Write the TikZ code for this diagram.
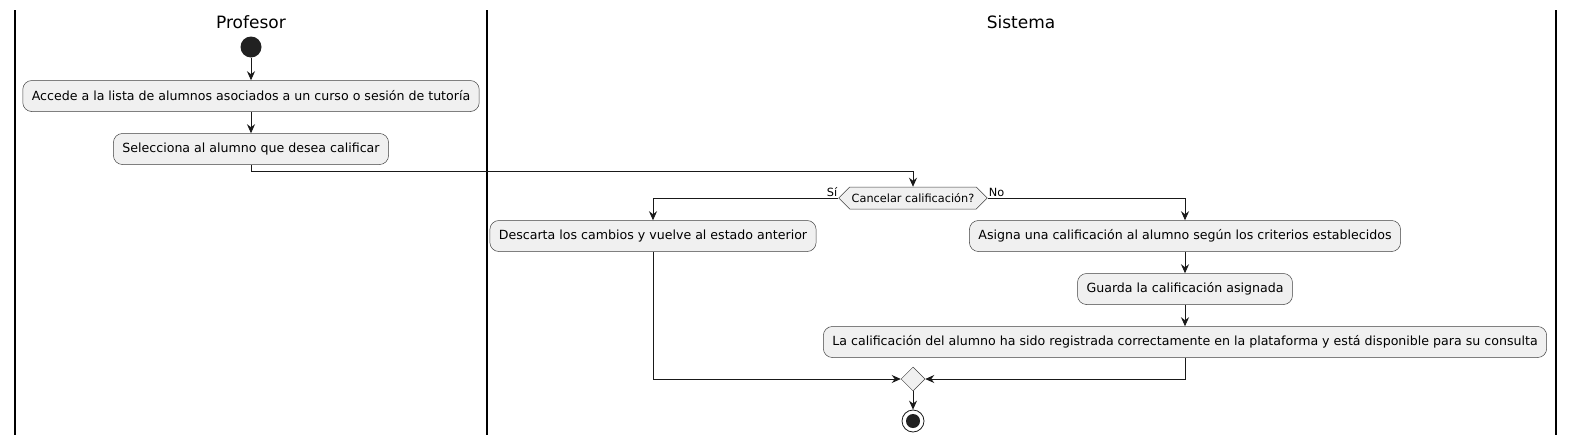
\documentclass[tikz,border=0pt]{standalone}
\usepackage{fontspec}
\setmainfont{DejaVu Sans}
\usetikzlibrary{arrows.meta,shapes.geometric,shapes.symbols,positioning}

\begin{document}
\begin{tikzpicture}[
    x=1pt, y=-1pt,
    act/.style={draw=black!75, line width=0.5pt, rounded corners=9pt, fill=black!6, minimum height=31pt, inner xsep=9pt, font=\fontsize{12.6}{14}\selectfont},
    cond/.style={draw=black!75, line width=0.5pt, fill=black!6, signal, signal to=west and east, minimum height=22pt, inner xsep=2pt, font=\fontsize{11.3}{13}\selectfont},
    merge/.style={draw=black!75, line width=0.5pt, fill=black!6, diamond, minimum size=24pt, inner sep=0pt},
    lane/.style={line width=1.1pt},
    title/.style={font=\fontsize{17}{19}\selectfont},
    lbl/.style={font=\fontsize{11.3}{13}\selectfont, inner sep=1pt},
    arr/.style={-{Stealth[length=9pt, width=8pt, inset=3pt]}, line width=0.8pt, black!90}
]
\useasboundingbox (0,0) rectangle (1574,445);
% swimlanes
\draw[lane] (15,10) -- (15,435);
\draw[lane] (487,10) -- (487,435);
\draw[lane] (1556,10) -- (1556,435);
\node[title] (tprof) at (251,22) {Profesor};
\node[title] (tsis) at (1021,22) {Sistema};

% profesor
\node[circle, fill=black!87, minimum size=21pt, inner sep=0pt] (start) at (251,47) {};
\node[act] (acc) at (251,96) {Accede a la lista de alumnos asociados a un curso o sesión de tutoría};
\node[act] (sel) at (251,149) {Selecciona al alumno que desea calificar};

% sistema
\node[cond] (dec) at (913,198) {Cancelar calificación?};
\node[act] (desc) at (653,236) {Descarta los cambios y vuelve al estado anterior};
\node[act] (asig) at (1185,236) {Asigna una calificación al alumno según los criterios establecidos};
\node[act] (guar) at (1185,289) {Guarda la calificación asignada};
\node[act] (reg) at (1185,342) {La calificación del alumno ha sido registrada correctamente en la plataforma y está disponible para su consulta};
\node[merge] (mrg) at (913,379) {};
\node[circle, draw=black!90, line width=0.8pt, fill=white, minimum size=22pt, inner sep=0pt] (stop) at (913,421) {};
\fill[black!87] (stop.center) circle (7pt);

\draw[arr] (start) -- (acc);
\draw[arr] (acc) -- (sel);
\draw[arr] (sel.south) -- ++(0,7) -| (dec.north);
\draw[arr] (dec.west) -| (desc.north);
\draw[arr] (dec.east) -| (asig.north);
\node[lbl, above left=0pt and 0pt of dec.west] (si) {Sí};
\node[lbl, above right=0pt and 0pt of dec.east] (no) {No};
\draw[arr] (asig) -- (guar);
\draw[arr] (guar) -- (reg);
\draw[arr] (desc.south) |- (mrg.west);
\draw[arr] (reg.south) |- (mrg.east);
\draw[arr] (mrg) -- (stop);
\end{tikzpicture}
\end{document}
